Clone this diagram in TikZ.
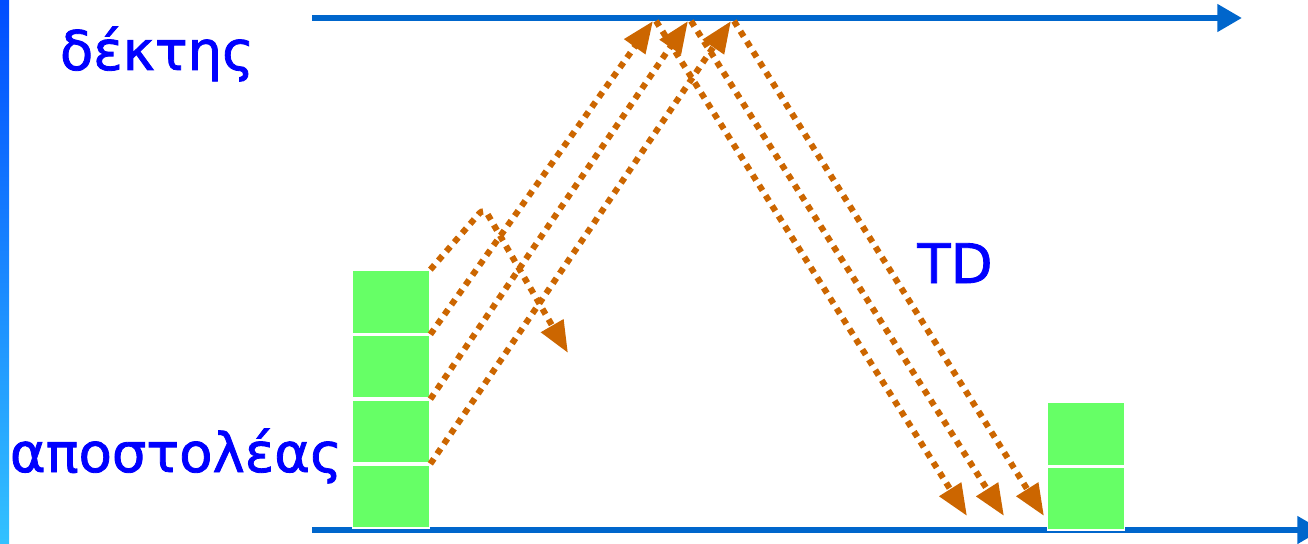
\documentclass[tikz,border=0pt]{standalone}
\usepackage{fontspec}
\setmainfont{DejaVu Sans}
\newfontfamily\lblfont[RawFeature={embolden=1.5}]{DejaVu Sans}
\usetikzlibrary{arrows.meta,positioning}
\definecolor{lineblue}{HTML}{0066CC}
\definecolor{pktorange}{HTML}{CC6600}
\definecolor{pktgreen}{HTML}{66FF66}
\tikzset{
  timeline/.style={line width=3.8pt, lineblue, -{Triangle[length=14pt,width=15pt]}},
  packet/.style={draw=white, line width=1pt, fill=pktgreen, minimum width=1.54cm, minimum height=1.26cm, inner sep=0pt},
  pkt/.style={pktorange, line width=3.5pt, dash pattern=on 3.5pt off 3.4pt, -{Triangle[length=18pt,width=14pt]}},
  lbl/.style={text=blue, font=\lblfont\fontsize{31}{31}\selectfont, anchor=base, inner sep=0pt}
}
\begin{document}
\begin{tikzpicture}[x=0.02cm, y=-0.02cm]
        \useasboundingbox (0,0) rectangle (1308,544);

        % Left bar
        \shade[top color=blue!70!cyan, bottom color=cyan!70!blue!80] (0,0) rectangle (9,544);

        % Time lines
        \draw[timeline] (312,18) -- (1242,18);
        \draw[timeline] (312,530) -- (1322,530);

        % Labels
        \node[lbl] (recv) at (157,70) {δέκτης};
        \node[lbl] (send) at (176,472) {αποστολέας};
        \node[lbl] (td) at (955,283) {TD};

        % Sender packets
        \node[packet] (s1) at (391,302) {};
        \node[packet, below=0pt of s1] (s2) {};
        \node[packet, below=0pt of s2] (s3) {};
        \node[packet, below=0pt of s3] (s4) {};

        % Receiver side packets
        \node[packet] (r1) at (1086,434) {};
        \node[packet, below=0pt of r1] (r2) {};

        % Arrival points at receiver
        \coordinate (a1) at (653,21);
        \coordinate (a2) at (688,21);
        \coordinate (a3) at (731,21);

        % Lost packet
        \coordinate (turn) at (484,208);
        \coordinate (lost) at (568,353);
        \draw[pkt, rounded corners=4pt] (s1.north east) -- (turn) -- (lost);

        % Data packets
        \draw[pkt] (s1.south east) -- (a1);
        \draw[pkt] (s2.south east) -- (a2);
        \draw[pkt] (s3.south east) -- (a3);

        % Acks
        \coordinate (k1) at (967,516);
        \coordinate (k2) at (1004,516);
        \coordinate (k3) at (1044,516);
        \draw[pkt] (a1) ++(3,0) -- (k1);
        \draw[pkt] (a2) ++(3,0) -- (k2);
        \draw[pkt] (a3) ++(3,0) -- (k3);
    \end{tikzpicture}
\end{document}
